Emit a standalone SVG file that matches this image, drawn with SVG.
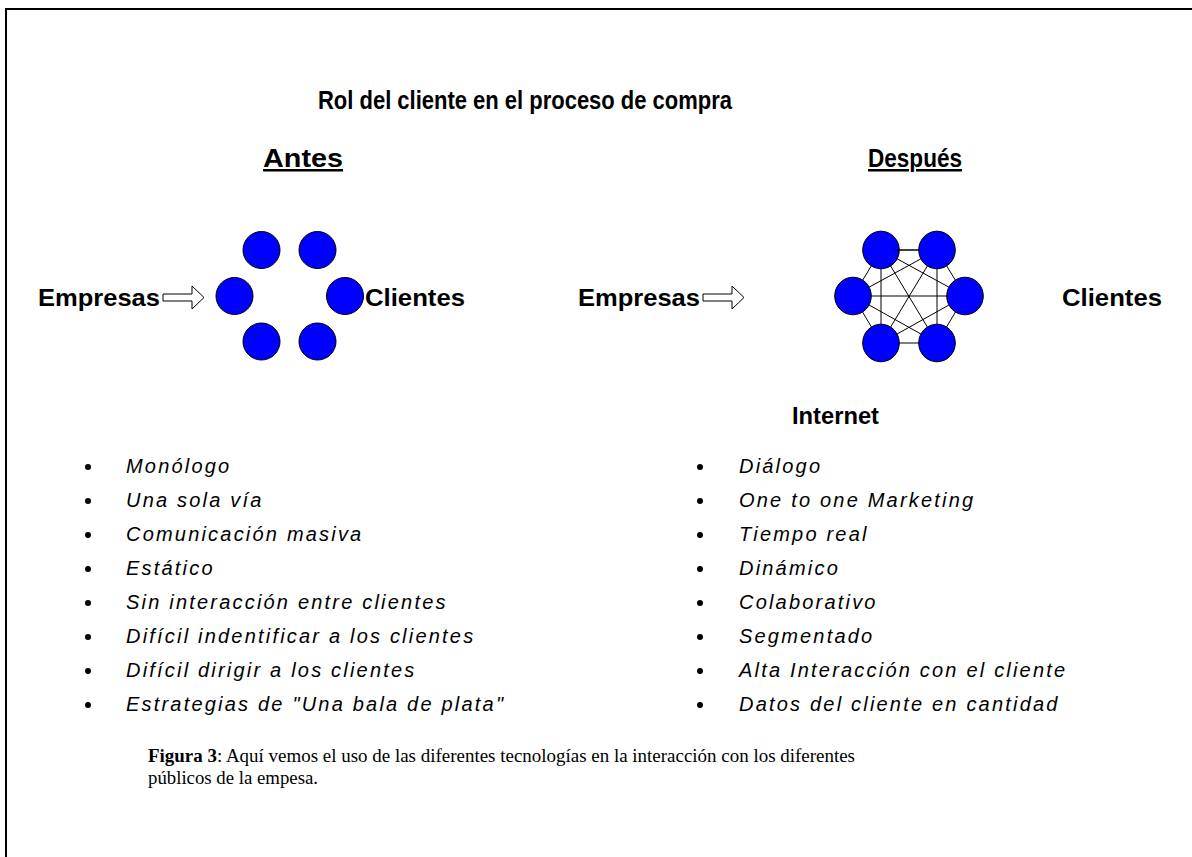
<svg xmlns="http://www.w3.org/2000/svg" width="1192" height="857" viewBox="0 0 1192 857">
<defs>
<style>
.bold{font-family:"Liberation Sans",Arial,sans-serif;font-weight:bold;fill:#000}
.item{font-family:"Liberation Sans",Arial,sans-serif;font-style:italic;font-size:20px;letter-spacing:2.2px;fill:#000}
.cap{font-family:"Liberation Serif","Times New Roman",serif;font-size:18px;fill:#000}
.node{fill:#0000ff;stroke:#000;stroke-width:1}
.edge{stroke:#000;stroke-width:1;fill:none}
.arrow{fill:#fff;stroke:#000;stroke-width:1}
</style>
</defs>
<rect width="1192" height="857" fill="#fff"/>
<path d="M6 857 V9 H1192" fill="none" stroke="#000" stroke-width="2"/>
<g id="title"><text class="bold" x="318" y="109" font-size="26" textLength="414" lengthAdjust="spacingAndGlyphs">Rol del cliente en el proceso de compra</text></g>
<g id="antes-head"><text class="bold" x="263" y="167" font-size="25" textLength="80" lengthAdjust="spacingAndGlyphs" text-decoration="underline">Antes</text></g>
<g id="despues-head"><text class="bold" x="868" y="167" font-size="25" textLength="94" lengthAdjust="spacingAndGlyphs" text-decoration="underline">Después</text></g>

<g id="empresas-left"><text class="bold" x="38" y="306" font-size="24" textLength="122" lengthAdjust="spacingAndGlyphs">Empresas</text></g>
<g id="arrow-left"><path class="arrow" d="M163 294 H192 V286 L204 297.5 L192 309 V301 H163 Z"/></g>
<g id="clientes-left"><text class="bold" x="365" y="306" font-size="24" textLength="100" lengthAdjust="spacingAndGlyphs">Clientes</text></g>
<g id="antes-nodes">
<circle class="node" cx="261.5" cy="250" r="18.5"/>
<circle class="node" cx="317.5" cy="250" r="18.5"/>
<circle class="node" cx="234.5" cy="296" r="18.5"/>
<circle class="node" cx="345" cy="296" r="18.5"/>
<circle class="node" cx="261.5" cy="341.5" r="18.5"/>
<circle class="node" cx="317.5" cy="341.5" r="18.5"/>
</g>

<g id="empresas-right"><text class="bold" x="578" y="306" font-size="24" textLength="122" lengthAdjust="spacingAndGlyphs">Empresas</text></g>
<g id="arrow-right"><path class="arrow" d="M703 294 H732 V286 L744 297.5 L732 309 V301 H703 Z"/></g>
<g id="clientes-right"><text class="bold" x="1062" y="306" font-size="24" textLength="100" lengthAdjust="spacingAndGlyphs">Clientes</text></g>

<g id="connectors">
<line class="edge" x1="881" y1="250" x2="937" y2="250"/>
<line class="edge" x1="937" y1="250" x2="965" y2="296"/>
<line class="edge" x1="965" y1="296" x2="937" y2="343"/>
<line class="edge" x1="937" y1="343" x2="881" y2="343"/>
<line class="edge" x1="881" y1="343" x2="853" y2="296"/>
<line class="edge" x1="853" y1="296" x2="881" y2="250"/>
<line class="edge" x1="881" y1="250" x2="881" y2="343"/>
<line class="edge" x1="937" y1="250" x2="937" y2="343"/>
<line class="edge" x1="853" y1="296" x2="965" y2="296"/>
<line class="edge" x1="881" y1="250" x2="937" y2="343"/>
<line class="edge" x1="937" y1="250" x2="881" y2="343"/>
<line class="edge" x1="881" y1="250" x2="965" y2="296"/>
<line class="edge" x1="937" y1="250" x2="853" y2="296"/>
<line class="edge" x1="881" y1="343" x2="965" y2="296"/>
<line class="edge" x1="937" y1="343" x2="853" y2="296"/>
</g>
<g id="despues-nodes">
<ellipse class="node" cx="881" cy="250" rx="18.3" ry="18.8"/>
<ellipse class="node" cx="937" cy="250" rx="18.3" ry="18.8"/>
<ellipse class="node" cx="853" cy="296" rx="18.3" ry="18.8"/>
<ellipse class="node" cx="965" cy="296" rx="18.3" ry="18.8"/>
<ellipse class="node" cx="881" cy="343" rx="18.3" ry="18.8"/>
<ellipse class="node" cx="937" cy="343" rx="18.3" ry="18.8"/>
<line class="edge" x1="893" y1="250" x2="919" y2="250"/>
</g>
<g id="internet"><text class="bold" x="792" y="424" font-size="24" textLength="87" lengthAdjust="spacingAndGlyphs">Internet</text></g>

<g id="antes-list">
<circle cx="88" cy="467" r="3"/><text class="item" x="126" y="473">Monólogo</text>
<circle cx="88" cy="501" r="3"/><text class="item" x="126" y="507">Una sola vía</text>
<circle cx="88" cy="535" r="3"/><text class="item" x="126" y="541">Comunicación masiva</text>
<circle cx="88" cy="569" r="3"/><text class="item" x="126" y="575">Estático</text>
<circle cx="88" cy="603" r="3"/><text class="item" x="126" y="609">Sin interacción entre clientes</text>
<circle cx="88" cy="637" r="3"/><text class="item" x="126" y="643">Difícil indentificar a los clientes</text>
<circle cx="88" cy="671" r="3"/><text class="item" x="126" y="677">Difícil dirigir a los clientes</text>
<circle cx="88" cy="705" r="3"/><text class="item" x="126" y="711">Estrategias de "Una bala de plata"</text>
</g>
<g id="despues-list">
<circle cx="700" cy="467" r="3"/><text class="item" x="739" y="473">Diálogo</text>
<circle cx="700" cy="501" r="3"/><text class="item" x="739" y="507">One to one Marketing</text>
<circle cx="700" cy="535" r="3"/><text class="item" x="739" y="541">Tiempo real</text>
<circle cx="700" cy="569" r="3"/><text class="item" x="739" y="575">Dinámico</text>
<circle cx="700" cy="603" r="3"/><text class="item" x="739" y="609">Colaborativo</text>
<circle cx="700" cy="637" r="3"/><text class="item" x="739" y="643">Segmentado</text>
<circle cx="700" cy="671" r="3"/><text class="item" x="739" y="677">Alta Interacción con el cliente</text>
<circle cx="700" cy="705" r="3"/><text class="item" x="739" y="711">Datos del cliente en cantidad</text>
</g>

<g id="caption">
<text class="cap" x="148" y="762" textLength="707" lengthAdjust="spacingAndGlyphs"><tspan font-weight="bold">Figura 3</tspan>: Aquí vemos el uso de las diferentes tecnologías en la interacción con los diferentes</text>
<text class="cap" x="148" y="784" textLength="170" lengthAdjust="spacingAndGlyphs">públicos de la empesa.</text>
</g>
</svg>
